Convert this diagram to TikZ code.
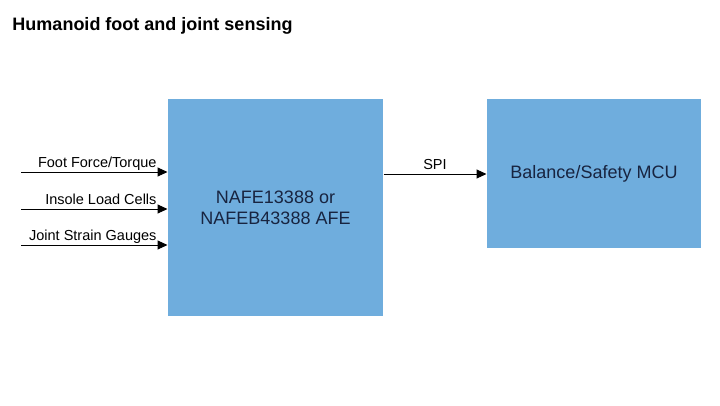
\documentclass[tikz,border=0pt]{standalone}
\usepackage{fontspec}
\setmainfont{Liberation Sans}
\usetikzlibrary{arrows.meta,positioning}
\definecolor{xanhkhoi}{RGB}{111,173,221}
\definecolor{chudam}{RGB}{24,36,64}
\begin{document}
\begin{tikzpicture}[x=1pt, y=-1pt, line join=round, line width=1pt,
  >={Triangle[length=10pt,width=9pt]},
  khoi/.style={fill=xanhkhoi, draw=none, text=chudam, align=center, inner sep=0pt,
    font=\fontsize{18}{21}\selectfont},
  nhan/.style={inner sep=0pt, font=\fontsize{14.5}{17}\selectfont}]
\useasboundingbox (0,0) rectangle (720,405);
\node[anchor=base west, inner sep=0pt, font=\bfseries\fontsize{18}{21}\selectfont]
  (tieude) at (12,30.5) {Humanoid foot and joint sensing};
\node[khoi, minimum width=215, minimum height=217] (afe) at (275.5,207.5)
  {NAFE13388 or\\NAFEB43388 AFE};
\node[khoi, minimum width=214, minimum height=149] (mcu) at (594,173.5)
  {Balance/Safety MCU};
% ba đầu vào cảm biến
\foreach \y/\ten/\nd in {172/vao1/{Foot Force/Torque},209/vao2/{Insole Load Cells},245/vao3/{Joint Strain Gauges}}
{
  \coordinate (\ten) at (21,\y);
  \draw[->] (\ten) -- (\ten -| afe.west);
  \node[nhan, anchor=base east] (\ten-nhan) at (157,\y-5) {\nd};
}
% đường SPI
\draw[->] (afe.east |- 0,174) coordinate (spiA) -- (spiA -| mcu.west);
\node[nhan, anchor=base] (spi) at (435,169) {SPI};
\end{tikzpicture}
\end{document}
